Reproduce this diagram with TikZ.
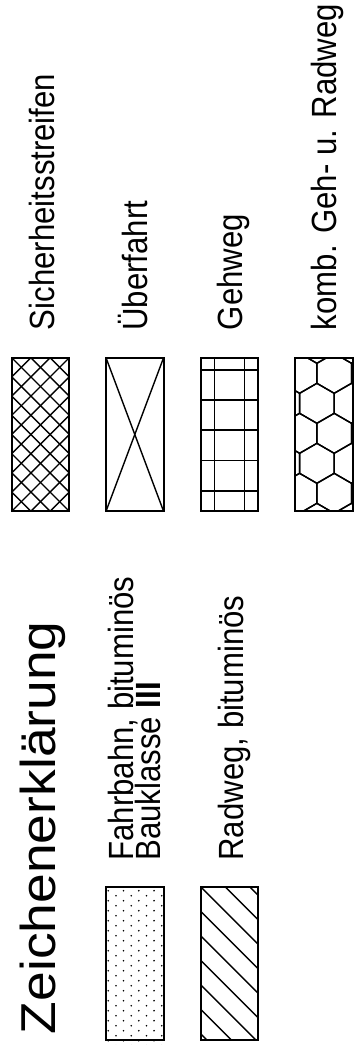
\documentclass[tikz,border=0pt]{standalone}
\usepackage{fontspec}
\usepackage{graphicx}
\setmainfont{Liberation Sans}
\newcommand\smallfnt{\fontsize{35}{35}\selectfont}
\newcommand\titlefnt{\fontsize{49}{49}\selectfont}
\newcommand\sqz[1]{\scalebox{0.89}[1]{#1}}
\begin{document}
\begin{tikzpicture}[x=1pt,y=-1pt,
  boxline/.style={line width=1.8pt},
  pat/.style={line width=1.4pt},
  lbl/.style={rotate=90, anchor=base west, inner sep=0pt, outer sep=0pt, font=\smallfnt},
  ttl/.style={rotate=90, anchor=base west, inner sep=0pt, outer sep=0pt, font=\titlefnt}]
\useasboundingbox[fill=white] (0,0) rectangle (358,1045);
\def\bw{57.6}
\def\bh{153.6}
\def\cA{11.7}
\def\cB{106}
\def\cC{200.6}
\def\cD{295}
\def\rU{357.7}
\def\rL{886.7}

% ---- texts ----
\node[ttl] (title) at (55,1034) {\scalebox{1.09}[1]{Zeichenerklärung}};
\node[lbl] (fahrA) at (133,860.5) {\sqz{Fahrbahn, bituminös}};
\node[lbl] (fahrB) at (160,860.5) {\sqz{Bauklasse \textbf{III}}};
\node[lbl] (radweg) at (243,860.5) {\sqz{Radweg, bituminös}};
\node[lbl] (sicher) at (54,330) {\sqz{Sicherheitsstreifen}};
\node[lbl] (ueber) at (147,330.5) {\sqz{Überfahrt}};
\node[lbl] (gehweg) at (242.5,330) {\sqz{Gehweg}};
\node[lbl] (komb) at (336.5,330) {\sqz{komb. Geh- u. Radweg}};

% ---- Sicherheitsstreifen: crosshatch ----
\begin{scope}
\clip (\cA,\rU) rectangle ++(\bw,\bh);
\foreach \k in {-9,...,3} \draw[pat] (\cA+\k*19.2,\rU) -- ++(200,200);
\foreach \k in {0,...,12} \draw[pat] (\cA+\k*19.2,\rU) -- ++(-200,200);
\end{scope}
\draw[boxline] (\cA,\rU) rectangle ++(\bw,\bh);

% ---- Ueberfahrt: X ----
\draw[pat] (\cB,\rU) -- ++(\bw,\bh);
\draw[pat] (\cB+\bw,\rU) -- ++(-\bw,\bh);
\draw[boxline] (\cB,\rU) rectangle ++(\bw,\bh);

% ---- Gehweg: grid ----
\foreach \xx in {13.7,43.7} \draw[pat] (\cC+\xx,\rU) -- ++(0,\bh);
\foreach \yy in {12.3,42.3,72.3,102.8,133.3} \draw[pat] (\cC,\rU+\yy) -- ++(\bw,0);
\draw[boxline] (\cC,\rU) rectangle ++(\bw,\bh);

% ---- komb. Geh- u. Radweg: hexagons ----
\begin{scope}
\clip (\cD,\rU) rectangle ++(\bw,\bh);
\foreach \yy in {373.3,433.3,493.3}
  \foreach \xx in {299.6,334.2,368.8}
    \draw[pat] (\xx,\yy) +(30:20) -- +(90:20) -- +(150:20) -- +(210:20) -- +(270:20) -- +(330:20) -- cycle;
\foreach \yy in {343.3,403.3,463.3,523.3}
  \foreach \xx in {282.3,316.9,351.5}
    \draw[pat] (\xx,\yy) +(30:20) -- +(90:20) -- +(150:20) -- +(210:20) -- +(270:20) -- +(330:20) -- cycle;
\end{scope}
\draw[boxline] (\cD,\rU) rectangle ++(\bw,\bh);

% ---- Fahrbahn: dots ----
\foreach \j in {0,...,15}
  \foreach \i in {0,...,3} {
    \fill (108.3+15.26*\i, 890.7+10*\j) circle (0.9);
    \fill (116+15.26*\i, 895.7+10*\j) circle (0.9);
  }
\draw[boxline] (\cB,\rL) rectangle ++(\bw,\bh);

% ---- Radweg: hatch ----
\begin{scope}
\clip (\cC,\rL) rectangle ++(\bw,\bh);
\foreach \k in {-7,...,3} \draw[pat] (\cC+\k*24.5,\rL) -- ++(200,200);
\end{scope}
\draw[boxline] (\cC,\rL) rectangle ++(\bw,\bh);
\end{tikzpicture}
\end{document}
